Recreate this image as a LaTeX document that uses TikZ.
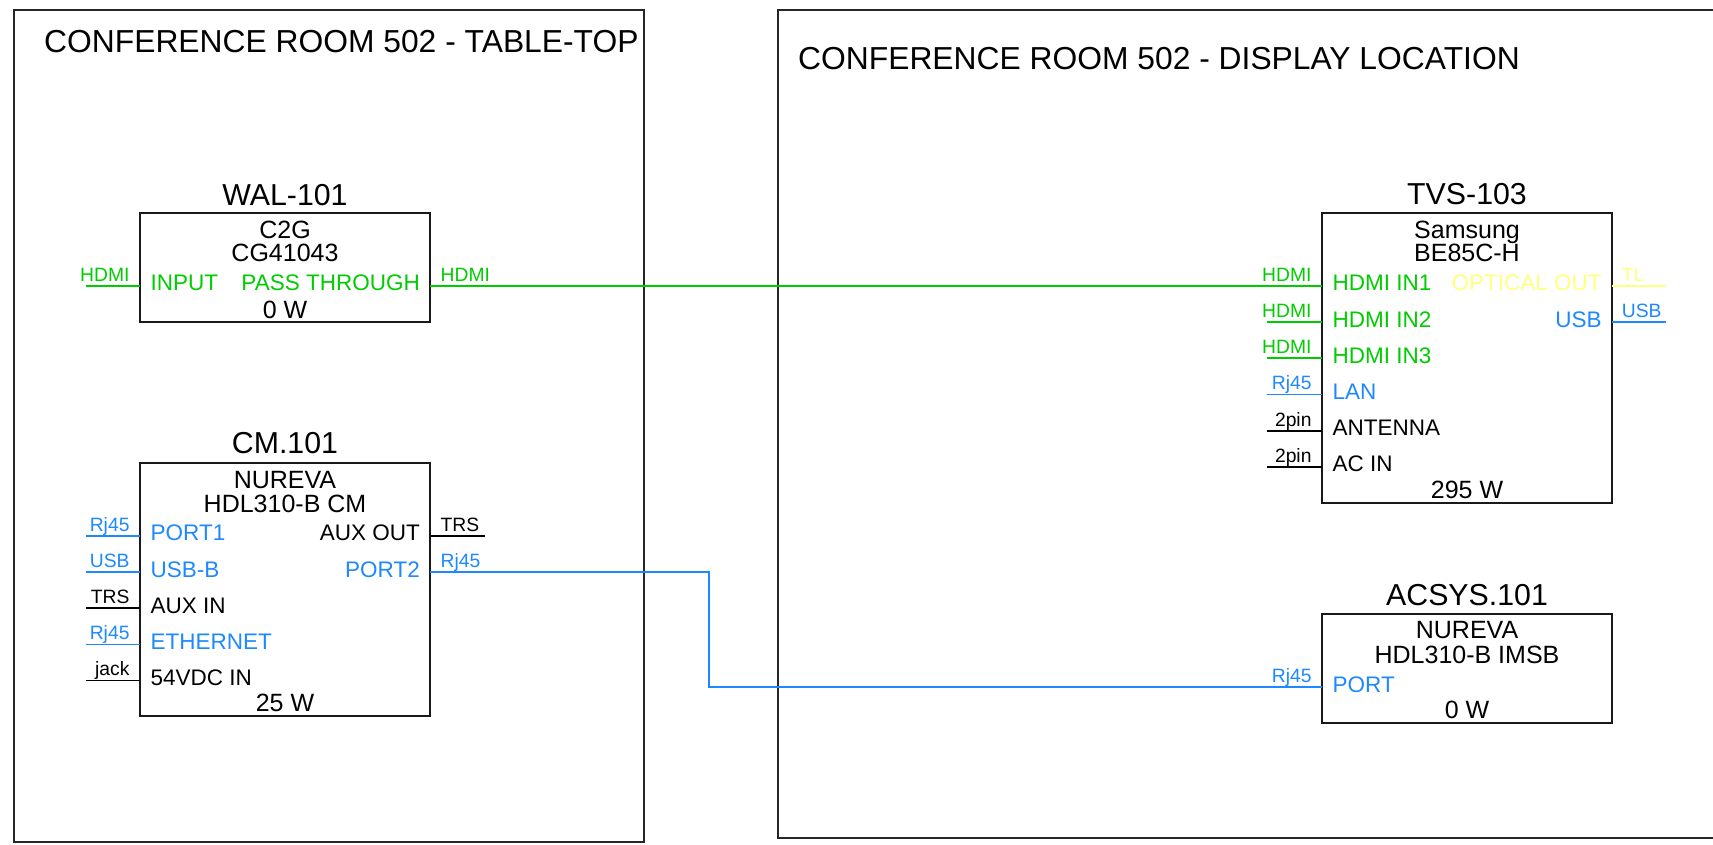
\documentclass[tikz,border=0pt]{standalone}
\usepackage{fontspec}
\setmainfont{Liberation Sans}
\definecolor{hdmigreen}{RGB}{0,204,0}
\definecolor{netblue}{RGB}{30,136,255}
\definecolor{optyellow}{RGB}{255,255,128}
\begin{document}
\begin{tikzpicture}[x=1pt, y=-1pt,
    frame/.style={draw=black!85, line width=2pt},
    devbox/.style={draw=black!90, line width=2.2pt, inner sep=0, minimum width=290},
    wire/.style={line width=1.9pt},
    roomtitle/.style={font=\fontsize{31.8}{36}\selectfont, anchor=base west, inner sep=0},
    devtag/.style={font=\fontsize{30.3}{34}\selectfont, anchor=base, inner sep=0},
    hdr/.style={font=\fontsize{25}{28}\selectfont, anchor=base, inner sep=0},
    portL/.style={font=\fontsize{22.5}{26}\selectfont, anchor=base west, inner sep=0},
    portR/.style={font=\fontsize{22.5}{26}\selectfont, anchor=base east, inner sep=0},
    pinL/.style={font=\fontsize{19.3}{22}\selectfont, anchor=base east, inner sep=0},
    pinR/.style={font=\fontsize{19.3}{22}\selectfont, anchor=base west, inner sep=0}]
    \useasboundingbox (0,0) rectangle (1713,844);
    % rooms
    \draw[frame] (13.5,9.5) rectangle (644,842);
    \draw[frame] (1713,9.5) -- (778,9.5) -- (778,838) -- (1713,838);
    \node[roomtitle] (roomA) at (44,52) {CONFERENCE ROOM 502 - TABLE-TOP};
    \node[roomtitle] (roomB) at (798,69) {CONFERENCE ROOM 502 - DISPLAY LOCATION};
    % WAL-101
    \node[devbox, minimum height=109] (wal) at (285,267.8) {};
    \node[devtag] (walTag) at (285,205) {WAL-101};
    \node[hdr] (walMake) at (285,238.3) {C2G};
    \node[hdr] (walModel) at (285,261.7) {CG41043};
    \node[portL, hdmigreen] (walIn) at (150.5,290.7) {INPUT};
    \node[portR, hdmigreen] (walOut) at (420,290.7) {PASS THROUGH};
    \node[hdr] (walPwr) at (285,318.3) {0 W};
    \coordinate (walInPin) at (140,285.7);
    \coordinate (walOutPin) at (430,285.7);
    \draw[wire, hdmigreen] (walInPin) -- ++(-54,0);
    \node[pinL, hdmigreen] (walInTag) at (129.7,281) {HDMI};
    \node[pinR, hdmigreen] (walOutTag) at (440.5,281) {HDMI};
    % CM.101
    \node[devbox, minimum height=252.7] (cm) at (285,589.65) {};
    \node[devtag] (cmTag) at (285,453.3) {CM.101};
    \node[hdr] (cmMake) at (285,488.3) {NUREVA};
    \node[hdr] (cmModel) at (285,512.3) {HDL310-B CM};
    \node[hdr] (cmPwr) at (285,711) {25 W};
    \node[portL, netblue] (cmP1) at (150.5,540.7) {PORT1};
    \node[portL, netblue] (cmUsb) at (150.5,577) {USB-B};
    \node[portL] (cmAuxIn) at (150.5,613.3) {AUX IN};
    \node[portL, netblue] (cmEth) at (150.5,649.5) {ETHERNET};
    \node[portL] (cmDc) at (150.5,685.5) {54VDC IN};
    \node[portR] (cmAuxOut) at (420,540.7) {AUX OUT};
    \node[portR, netblue] (cmP2) at (420,577) {PORT2};
    \draw[wire, netblue] (140,535.7) -- ++(-54,0);
    \draw[wire, netblue] (140,572) -- ++(-54,0);
    \draw[wire] (140,608.3) -- ++(-54,0);
    \draw[wire, netblue] (140,644.5) -- ++(-54,0);
    \draw[wire] (140,680.5) -- ++(-54,0);
    \draw[wire] (430,535.7) -- ++(55,0);
    \node[pinL, netblue] (cmP1Tag) at (129.7,531) {Rj45};
    \node[pinL, netblue] (cmUsbTag) at (129.7,567.3) {USB};
    \node[pinL] (cmAuxInTag) at (129.7,603.6) {TRS};
    \node[pinL, netblue] (cmEthTag) at (129.7,639.8) {Rj45};
    \node[pinL] (cmDcTag) at (129.7,675.8) {jack};
    \node[pinR] (cmAuxOutTag) at (440.5,531) {TRS};
    \node[pinR, netblue] (cmP2Tag) at (440.5,567.3) {Rj45};
    \coordinate (cmP2Pin) at (430,572);
    % TVS-103
    \node[devbox, minimum width=289.7, minimum height=289.4] (tvs) at (1466.85,358) {};
    \node[devtag] (tvsTag) at (1467,204.3) {TVS-103};
    \node[hdr] (tvsMake) at (1467,238.3) {Samsung};
    \node[hdr] (tvsModel) at (1467,261.7) {BE85C-H};
    \node[hdr] (tvsPwr) at (1467,498.3) {295 W};
    \node[portL, hdmigreen] (tvsIn1) at (1332.5,290.7) {HDMI IN1};
    \node[portL, hdmigreen] (tvsIn2) at (1332.5,327) {HDMI IN2};
    \node[portL, hdmigreen] (tvsIn3) at (1332.5,363.3) {HDMI IN3};
    \node[portL, netblue] (tvsLan) at (1332.5,399.5) {LAN};
    \node[portL] (tvsAnt) at (1332.5,435.7) {ANTENNA};
    \node[portL] (tvsAc) at (1332.5,471.8) {AC IN};
    \node[portR, optyellow] (tvsOpt) at (1601.7,290.7) {OPTICAL OUT};
    \node[portR, netblue] (tvsUsb) at (1601.7,327) {USB};
    \coordinate (tvsIn1Pin) at (1322,285.7);
    \draw[wire, hdmigreen] (1322,322) -- ++(-54.7,0);
    \draw[wire, hdmigreen] (1322,358.3) -- ++(-54.7,0);
    \draw[wire, netblue] (1322,394.5) -- ++(-54.7,0);
    \draw[wire] (1322,430.7) -- ++(-54.7,0);
    \draw[wire] (1322,466.8) -- ++(-54.7,0);
    \draw[wire, optyellow] (1611.7,285.7) -- ++(54.3,0);
    \draw[wire, netblue] (1611.7,322) -- ++(54.3,0);
    \node[pinL, hdmigreen] (tvsIn1Tag) at (1311.7,281) {HDMI};
    \node[pinL, hdmigreen] (tvsIn2Tag) at (1311.7,317.3) {HDMI};
    \node[pinL, hdmigreen] (tvsIn3Tag) at (1311.7,353.6) {HDMI};
    \node[pinL, netblue] (tvsLanTag) at (1311.7,389.8) {Rj45};
    \node[pinL] (tvsAntTag) at (1311.7,426) {2pin};
    \node[pinL] (tvsAcTag) at (1311.7,462.1) {2pin};
    \node[pinR, optyellow] (tvsOptTag) at (1621.7,281) {TL};
    \node[pinR, netblue] (tvsUsbTag) at (1621.7,317.3) {USB};
    % ACSYS.101
    \node[devbox, minimum height=109] (acsys) at (1467,668.8) {};
    \node[devtag] (acsysTag) at (1467,605.5) {ACSYS.101};
    \node[hdr] (acsysMake) at (1467,638.3) {NUREVA};
    \node[hdr] (acsysModel) at (1467,663.3) {HDL310-B IMSB};
    \node[hdr] (acsysPwr) at (1467,718.3) {0 W};
    \node[portL, netblue] (acsysPort) at (1332.5,692) {PORT};
    \node[pinL, netblue] (acsysPortTag) at (1311.7,682.3) {Rj45};
    \coordinate (acsysPin) at (1322,687);
    % links
    \draw[wire, hdmigreen] (walOutPin) -- (tvsIn1Pin);
    \draw[wire, netblue] (cmP2Pin) -- ++(279,0) |- (acsysPin);
\end{tikzpicture}
\end{document}
